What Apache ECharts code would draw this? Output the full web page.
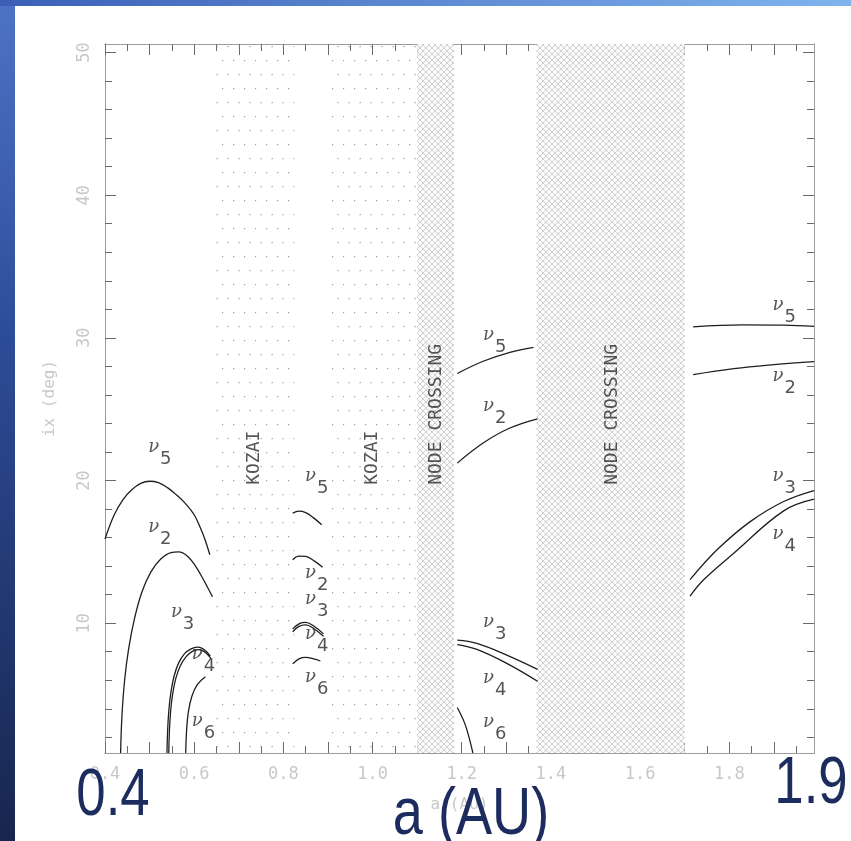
<!DOCTYPE html>
<html>
<head>
<meta charset="utf-8">
<script src="https://cdn.jsdelivr.net/npm/echarts@6/dist/echarts.min.js"></script>
<style>
  html, body { margin: 0; padding: 0; background: #ffffff; }
  #main { width: 851px; height: 841px; }
</style>
</head>
<body>
<div id="main"></div>
<script>
// ---- axis ranges and ticks ----
const xRange = [0.4, 1.99];
const yRange = [0.9, 50.6];
const xTickLabels = [0.4, 0.6, 0.8, 1.0, 1.2, 1.4, 1.6, 1.8];
const xMajorTicks = [0.4, 0.5, 0.6, 0.7, 0.8, 0.9, 1.0, 1.1, 1.2, 1.3, 1.4, 1.5, 1.6, 1.7, 1.8, 1.9];
const xMinorTicks = [0.45, 0.55, 0.65, 0.75, 0.85, 0.95, 1.05, 1.15, 1.25, 1.35, 1.45, 1.55, 1.65, 1.75, 1.85, 1.95];
const yTickLabels = [10, 20, 30, 40, 50];
const yMajorTicks = [10, 20, 30, 40, 50];
const yMinorTicks = [2, 4, 6, 8, 12, 14, 16, 18, 22, 24, 26, 28, 32, 34, 36, 38, 42, 44, 46, 48];

// ---- excluded zones (a, AU) ----
const kozaiBands = [[0.645, 0.825], [0.905, 1.10]];
const nodeCrossingBands = [[1.10, 1.183], [1.368, 1.70]];
const zoneNames = [
  [0.736, 19.7, 'KOZAI'],
  [1.0, 19.7, 'KOZAI'],
  [1.142, 19.7, 'NODE CROSSING'],
  [1.537, 19.7, 'NODE CROSSING']
];

// ---- secular resonance curves: [a (AU), i (deg)] ----
const nu5Inner = [[0.40, 15.9], [0.42, 17.55], [0.44, 18.65], [0.46, 19.35], [0.48, 19.8], [0.50, 19.95], [0.52, 19.85], [0.54, 19.5], [0.56, 19.0], [0.58, 18.4], [0.60, 17.6], [0.615, 16.6], [0.625, 15.8], [0.635, 14.8]];
const nu2Inner = [[0.435, 0.9], [0.438, 3.5], [0.444, 6.0], [0.453, 8.2], [0.466, 10.3], [0.483, 12.2], [0.503, 13.6], [0.525, 14.5], [0.548, 14.95], [0.565, 15.0], [0.585, 14.7], [0.603, 14.0], [0.62, 13.1], [0.641, 11.85]];
const nu3Inner = [[0.539, 0.9], [0.5405, 2.5], [0.5435, 4.0], [0.548, 5.2], [0.555, 6.3], [0.565, 7.2], [0.578, 7.85], [0.593, 8.2], [0.607, 8.32], [0.619, 8.22], [0.628, 8.0], [0.636, 7.7]];
const nu4Inner = [[0.543, 0.9], [0.5445, 2.5], [0.5475, 3.95], [0.552, 5.1], [0.559, 6.15], [0.569, 7.02], [0.582, 7.66], [0.596, 8.02], [0.609, 8.15], [0.62, 8.06], [0.629, 7.84], [0.637, 7.55]];
const nu6Inner = [[0.581, 0.9], [0.583, 2.5], [0.587, 3.8], [0.595, 4.9], [0.607, 5.7], [0.625, 6.25]];

const nu5Mid = [[0.821, 17.72], [0.835, 17.85], [0.85, 17.75], [0.867, 17.4], [0.886, 16.9]];
const nu2Mid = [[0.821, 14.45], [0.835, 14.7], [0.85, 14.68], [0.87, 14.35], [0.888, 13.92]];
const nu3Mid = [[0.821, 9.6], [0.835, 9.95], [0.85, 10.05], [0.868, 9.8], [0.89, 9.25]];
const nu4Mid = [[0.821, 9.4], [0.835, 9.78], [0.85, 9.88], [0.868, 9.63], [0.89, 9.08]];
const nu6Mid = [[0.821, 7.15], [0.835, 7.5], [0.85, 7.6], [0.868, 7.5], [0.883, 7.35]];

const nu5Gap = [[1.19, 27.5], [1.248, 28.36], [1.308, 28.99], [1.361, 29.34]];
const nu2Gap = [[1.19, 21.22], [1.248, 22.63], [1.308, 23.68], [1.37, 24.33]];
const nu3Gap = [[1.19, 8.81], [1.234, 8.58], [1.301, 7.76], [1.37, 6.76]];
const nu4Gap = [[1.19, 8.5], [1.234, 8.16], [1.301, 7.18], [1.37, 5.93]];
const nu6Gap = [[1.19, 4.09], [1.207, 2.96], [1.218, 1.8], [1.225, 0.9]];

const nu5Outer = [[1.719, 30.77], [1.832, 30.91], [1.922, 30.89], [1.99, 30.8]];
const nu2Outer = [[1.719, 27.42], [1.81, 27.84], [1.90, 28.12], [1.99, 28.33]];
const nu3Outer = [[1.712, 13.05], [1.772, 15.13], [1.847, 17.12], [1.922, 18.53], [1.99, 19.3]];
const nu4Outer = [[1.712, 11.9], [1.742, 13.03], [1.81, 14.9], [1.922, 17.87], [1.99, 18.69]];

// resonance tags: [a, i, subscript]
const nuTags = [
  [0.508, 22.3, '5'], [0.508, 16.75, '2'], [0.559, 10.78, '3'], [0.606, 7.83, '4'], [0.606, 3.13, '6'],
  [0.860, 20.26, '5'], [0.860, 13.52, '2'], [0.860, 11.69, '3'], [0.860, 9.23, '4'], [0.860, 6.2, '6'],
  [1.259, 30.16, '5'], [1.259, 25.17, '2'], [1.259, 10.08, '3'], [1.259, 6.14, '4'], [1.259, 3.05, '6'],
  [1.908, 32.27, '5'], [1.908, 27.28, '2'], [1.908, 20.26, '3'], [1.908, 16.26, '4']
];

const curves = [
  nu5Inner, nu2Inner, nu3Inner, nu4Inner, nu6Inner,
  nu5Mid, nu2Mid, nu3Mid, nu4Mid, nu6Mid,
  nu5Gap, nu2Gap, nu3Gap, nu4Gap, nu6Gap,
  nu5Outer, nu2Outer, nu3Outer, nu4Outer
];

// ---- fill textures ----
function dotTexture() {
  const c = document.createElement('canvas');
  c.width = 11; c.height = 28;
  const g = c.getContext('2d');
  g.fillStyle = '#9a9a9a';
  g.fillRect(2, 4, 1.2, 1.2);
  g.fillRect(7.5, 18, 1.2, 1.2);
  return c;
}
function hatchTexture() {
  const c = document.createElement('canvas');
  c.width = 6; c.height = 6;
  const g = c.getContext('2d');
  g.fillStyle = '#fbfbfb';
  g.fillRect(0, 0, 6, 6);
  g.fillStyle = '#d0d0d0';
  for (let k = 0; k < 6; k++) {
    g.fillRect(k, k, 1, 1);
    g.fillRect(5 - k, k, 1, 1);
  }
  return c;
}
const dotFill = { image: dotTexture(), repeat: 'repeat' };
const hatchFill = { image: hatchTexture(), repeat: 'repeat' };

const MONO = '"DejaVu Sans Mono", monospace';
const axisGrey = '#9c9c9c';
const tickGrey = '#6a6a6a';
const labelGrey = '#c8c8c8';

function xAxisDef(pos, ticks, len, withLabels) {
  return {
    type: 'value', position: pos, min: xRange[0], max: xRange[1], offset: 0,
    splitLine: { show: false },
    axisLine: { show: true, onZero: false, lineStyle: { color: axisGrey, width: 1 } },
    axisTick: { show: true, inside: true, length: len, customValues: ticks, lineStyle: { color: tickGrey, width: 1 } },
    axisLabel: withLabels ? {
      show: true, customValues: xTickLabels, margin: 13,
      formatter: v => v.toFixed(1), color: labelGrey, fontFamily: MONO, fontSize: 17
    } : { show: false },
    name: withLabels ? 'a (AU)' : '', nameLocation: 'middle', nameGap: 44,
    nameTextStyle: { color: labelGrey, fontFamily: MONO, fontSize: 16 }
  };
}
function yAxisDef(pos, ticks, len, withLabels) {
  return {
    type: 'value', position: pos, min: yRange[0], max: yRange[1], offset: 0,
    splitLine: { show: false },
    axisLine: { show: true, onZero: false, lineStyle: { color: axisGrey, width: 1 } },
    axisTick: { show: true, inside: true, length: len, customValues: ticks, lineStyle: { color: tickGrey, width: 1 } },
    axisLabel: withLabels ? {
      show: true, customValues: yTickLabels, margin: 12, rotate: 90,
      formatter: v => String(v), color: labelGrey, fontFamily: MONO, fontSize: 17
    } : { show: false },
    name: withLabels ? 'ix (deg)' : '', nameLocation: 'middle', nameGap: 47, nameRotate: 90,
    nameTextStyle: { color: labelGrey, fontFamily: MONO, fontSize: 16 }
  };
}

const series = [];

// shaded exclusion zones
series.push({
  type: 'line', data: [], silent: true, z: 1,
  markArea: {
    silent: true,
    label: { show: false },
    data: kozaiBands.map(b => [{ xAxis: b[0], itemStyle: { color: dotFill, borderWidth: 0 } }, { xAxis: b[1] }])
      .concat(nodeCrossingBands.map(b => [{ xAxis: b[0], itemStyle: { color: hatchFill, borderWidth: 0 } }, { xAxis: b[1] }]))
  }
});

curves.forEach(d => {
  series.push({
    type: 'line', data: d, showSymbol: false, symbol: 'none',
    smooth: 0.4, silent: true, z: 3,
    lineStyle: { color: '#1e1e1e', width: 1.3 }
  });
});

series.push({
  type: 'scatter', data: zoneNames, symbolSize: 0, silent: true, z: 4,
  label: {
    show: true, position: 'inside', rotate: 90, align: 'left', verticalAlign: 'middle',
    formatter: p => p.value[2], color: '#2a2a2a', fontFamily: MONO, fontSize: 18
  }
});

series.push({
  type: 'scatter', data: nuTags, symbolSize: 0, silent: true, z: 4,
  label: {
    show: true, position: 'inside', align: 'left', verticalAlign: 'middle', offset: [-5, 6],
    formatter: p => '{n|ν}{s|' + p.value[2] + '}',
    rich: {
      n: { fontFamily: '"DejaVu Serif", serif', fontStyle: 'italic', fontSize: 18, color: '#2a2a2a', padding: [0, 1, 12, 0] },
      s: { fontFamily: '"DejaVu Sans", sans-serif', fontSize: 18, color: '#2a2a2a', padding: [12, 0, 0, 0] }
    }
  }
});

const bigText = { fill: '#1d2c5e', font: '66px "Liberation Sans", Arial, sans-serif', textAlign: 'center', textVerticalAlign: 'middle' };

const option = {
  animation: false,
  backgroundColor: '#ffffff',
  grid: { left: 105, right: 37, top: 44, bottom: 88, containLabel: false },
  xAxis: [
    xAxisDef('bottom', xMajorTicks, 11, true),
    xAxisDef('bottom', xMinorTicks, 7, false),
    xAxisDef('top', xMajorTicks, 11, false),
    xAxisDef('top', xMinorTicks, 7, false)
  ],
  yAxis: [
    yAxisDef('left', yMajorTicks, 11, true),
    yAxisDef('left', yMinorTicks, 7, false),
    yAxisDef('right', yMajorTicks, 11, false),
    yAxisDef('right', yMinorTicks, 7, false)
  ],
  series: series,
  graphic: [
    {
      type: 'rect', z: 0, silent: true,
      shape: { x: 0, y: 0, width: 15, height: 841 },
      style: { fill: new echarts.graphic.LinearGradient(0, 0, 0, 1, [
        { offset: 0, color: '#4e74c6' }, { offset: 0.4, color: '#2d4c98' }, { offset: 1, color: '#18264e' }
      ]) }
    },
    {
      type: 'rect', z: 0, silent: true,
      shape: { x: 0, y: 0, width: 851, height: 6 },
      style: { fill: new echarts.graphic.LinearGradient(0, 0, 1, 0, [
        { offset: 0, color: '#3c5fb6' }, { offset: 1, color: '#7fb4ee' }
      ]) }
    },
    { type: 'text', z: 100, silent: true, x: 113, y: 797, scaleX: 0.8, style: Object.assign({ text: '0.4' }, bigText) },
    { type: 'text', z: 100, silent: true, x: 471, y: 816, scaleX: 0.82, style: Object.assign({ text: 'a (AU)' }, bigText) },
    { type: 'text', z: 100, silent: true, x: 811, y: 785, scaleX: 0.8, style: Object.assign({ text: '1.9' }, bigText) }
  ]
};

const chart = echarts.init(document.getElementById('main'), null, { renderer: 'canvas' });
chart.setOption(option);
</script>
</body>
</html>
